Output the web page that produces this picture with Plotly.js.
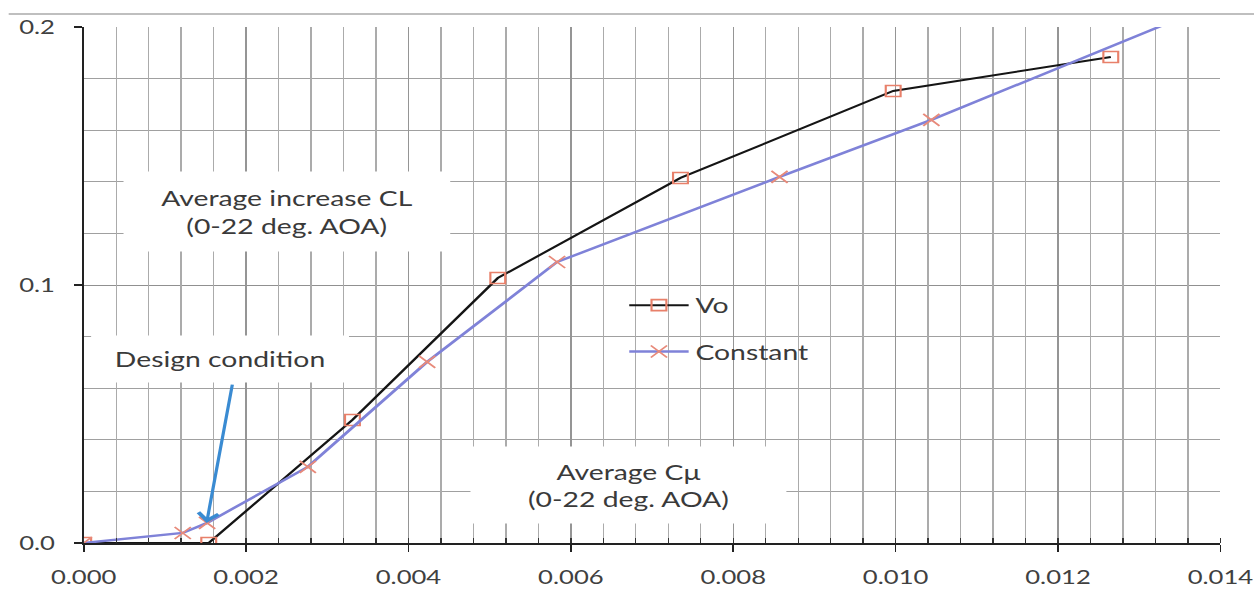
<!DOCTYPE html>
<html><head><meta charset="utf-8">
<script src="https://cdn.plot.ly/plotly-3.0.1.min.js"></script>
<style>
html,body{margin:0;padding:0;background:#fff;overflow:hidden;}
#wrap{width:1254px;height:594px;overflow:hidden;position:relative;background:#fff;}
#chart{width:929px;height:594px;transform:scaleX(1.35);transform-origin:0 0;}
</style></head><body><div id="wrap"><div id="chart"></div></div>
<script>
// ---- data ----
const seriesNames = ["Vo", "Constant"];
const cmuVo = [0, 0.00154, 0.00331, 0.00510, 0.00735, 0.00997, 0.01265];
const clVo  = [0, 0, 0.0477, 0.1027, 0.1415, 0.1752, 0.1884];
const cmuConst = [0, 0.00122, 0.00152, 0.00276, 0.00423, 0.00583, 0.00857, 0.01044, 0.01355];
const clConst  = [0, 0.0039, 0.0078, 0.0295, 0.0702, 0.1089, 0.1419, 0.1640, 0.2040];
const xRange = [0, 0.014];
const yRange = [0, 0.2];
const labelCL = "Average increase CL<br>(0-22 deg. AOA)";
const labelCmu = "Average Cμ<br>(0-22 deg. AOA)";
const labelDesign = "Design condition";
const designTip = [0.001514, 0.0078];
const designTail = [0.001834, 0.062];

// ---- grid positions ----
const minorGrid = [], majorGrid = [];
for (let i = 1; i < 35; i++) {
  const v = +(i * 0.0004).toFixed(4);
  if (i % 5 === 0) majorGrid.push(v); else minorGrid.push(v);
}

const font = 'Lato, "Open Sans", sans-serif';
const txt = '#3a3a3a';

const traces = [
  {x: [null], y: [null], xaxis: 'x2', yaxis: 'y', showlegend: false, hoverinfo: 'skip', mode: 'markers'},
  {x: [null], y: [null], xaxis: 'x3', yaxis: 'y', showlegend: false, hoverinfo: 'skip', mode: 'markers'},
  {
    x: cmuVo, y: clVo, name: seriesNames[0], mode: 'lines+markers', legendgroup: 'a',
    line: {color: '#151515', width: 2},
    marker: {symbol: 'square-open', size: 11, color: '#e8806a', line: {width: 1.6, color: '#e8806a'}},
    cliponaxis: true
  },
  {
    x: cmuConst, y: clConst, name: seriesNames[1], mode: 'lines+markers', legendgroup: 'b',
    line: {color: '#7f82d8', width: 2.4},
    marker: {symbol: 'x-thin', size: 12, color: '#e88a7a', line: {width: 1.5, color: '#e88a7a'}},
    cliponaxis: true
  }
];

const layout = {
  width: 929, height: 594,
  margin: {l: 62, r: 25, t: 27, b: 51},
  paper_bgcolor: '#fff', plot_bgcolor: '#fff',
  font: {family: font, color: txt},
  hovermode: false,
  showlegend: true,
  legend: {
    x: 0.474, y: 0.50, xanchor: 'left', yanchor: 'top',
    bgcolor: 'rgba(0,0,0,0)', borderwidth: 0,
    font: {family: font, size: 21, color: txt},
    tracegroupgap: 16, traceorder: 'grouped', itemwidth: 44
  },
  xaxis: {
    range: xRange, tick0: 0, dtick: 0.002, tickformat: '.3f',
    showgrid: false, zeroline: false,
    showline: true, linecolor: '#222', linewidth: 1.5,
    ticks: 'outside', ticklen: 7, tickwidth: 1.2, tickcolor: '#222',
    ticklabelstandoff: 10,
    tickfont: {family: font, size: 19, color: '#404040'},
    minor: {dtick: 0.0004, ticks: 'inside', ticklen: 5, tickwidth: 1, tickcolor: '#333', showgrid: false}
  },
  xaxis2: {
    overlaying: 'x', range: xRange, tickmode: 'array', tickvals: minorGrid,
    showticklabels: false, ticks: '', showgrid: true, gridcolor: '#ababab', gridwidth: 1,
    zeroline: false, showline: false
  },
  xaxis3: {
    overlaying: 'x', range: xRange, tickmode: 'array', tickvals: majorGrid,
    showticklabels: false, ticks: '', showgrid: true, gridcolor: '#959595', gridwidth: 1,
    zeroline: false, showline: false
  },
  yaxis: {
    range: yRange, tick0: 0, dtick: 0.1, tickformat: '.1f',
    showgrid: true, gridcolor: '#909090', gridwidth: 1, zeroline: false,
    showline: true, linecolor: '#222', linewidth: 1.5,
    ticks: 'outside', ticklen: 6, tickwidth: 1.2, tickcolor: '#222',
    ticklabelstandoff: 10,
    tickfont: {family: font, size: 19, color: '#404040'},
    minor: {dtick: 0.02, showgrid: true, gridcolor: '#a0a0a0', gridwidth: 1, ticks: ''}
  },
  shapes: [
    {type: 'line', xref: 'paper', yref: 'paper', x0: -0.066, x1: 1.04, y0: 1.0252, y1: 1.0252,
     line: {color: '#808080', width: 1}}
  ],
  annotations: [
    {x: 0.00250, y: 0.1283, xref: 'x', yref: 'y', text: labelCL, showarrow: false,
     bgcolor: '#fff', width: 241, height: 79, borderpad: 0, align: 'center',
     font: {family: font, size: 21, color: txt}},
    {x: 0.00168, y: 0.0713, xref: 'x', yref: 'y', text: labelDesign, showarrow: false,
     bgcolor: '#fff', width: 190, height: 46, borderpad: 0, align: 'center',
     font: {family: font, size: 21, color: txt}},
    {x: 0.00671, y: 0.0225, xref: 'x', yref: 'y', text: labelCmu, showarrow: false,
     bgcolor: '#fff', width: 233, height: 76, borderpad: 0, align: 'center',
     font: {family: font, size: 21, color: txt}},
    {x: designTip[0], y: designTip[1], xref: 'x', yref: 'y',
     ax: designTail[0], ay: designTail[1], axref: 'x', ayref: 'y',
     text: '', showarrow: true, arrowhead: 4, arrowsize: 1.2, arrowwidth: 2.4, arrowcolor: '#3a8bd2'}
  ]
};

Plotly.newPlot('chart', traces, layout, {staticPlot: true, displayModeBar: false});
</script>
</body></html>
